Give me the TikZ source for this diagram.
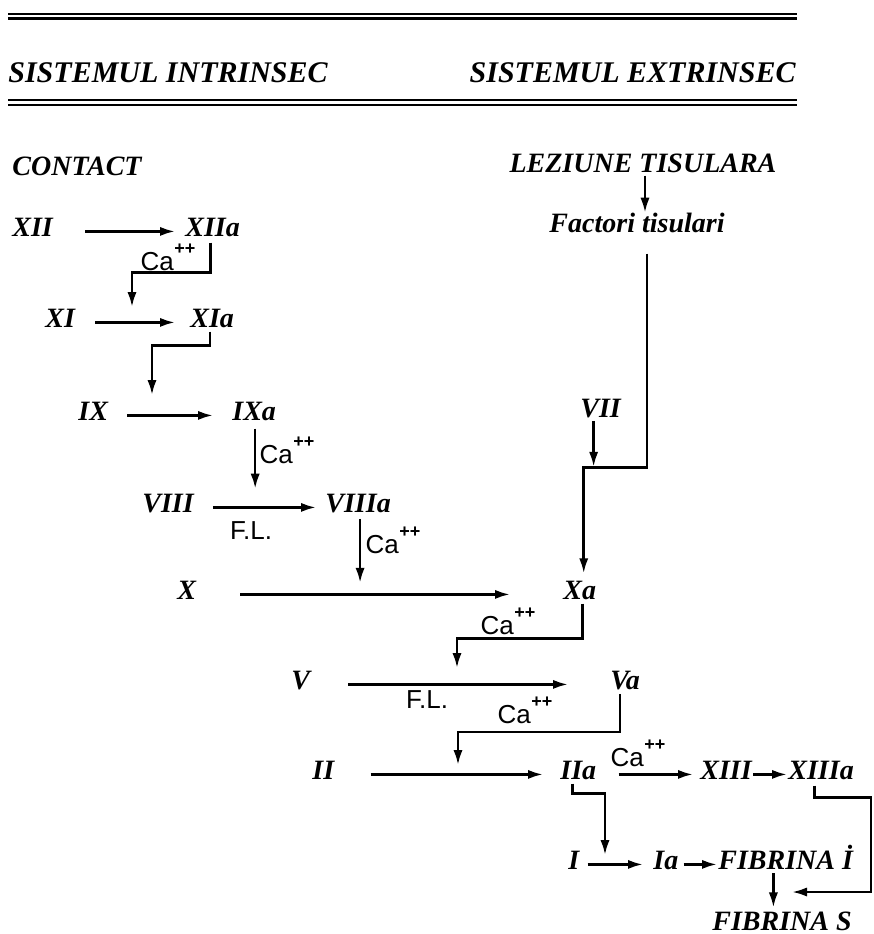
\documentclass[tikz,border=0pt]{standalone}
\usepackage{fontspec}
\setmainfont{Liberation Serif}
\setsansfont{Liberation Sans}
\usetikzlibrary{arrows.meta,calc}
\newcommand{\CaPP}{Ca\kern0.02em\raisebox{0.62em}{\fontsize{9}{9}\selectfont\bfseries ++}}
\begin{document}
\begin{tikzpicture}[x=0.5pt,y=-0.5pt,
  lbl/.style={inner sep=0pt,font=\fontsize{14}{16}\selectfont\bfseries\itshape},
  hdr/.style={inner sep=0pt,font=\fontsize{15}{17}\selectfont\bfseries\itshape},
  hand/.style={inner sep=0pt,font=\fontsize{13}{15}\selectfont\sffamily},
  arr/.style={line width=1.25pt,-{Latex[length=7.5pt,width=4.6pt]}},
  rule/.style={line width=1.1pt}]
\useasboundingbox (0,0) rectangle (874,934);

% header rules
\draw[rule] (8,14) -- (797,14);
\draw[rule] (8,18.5) -- (797,18.5);
\draw[rule] (8,100) -- (797,100);
\draw[rule] (8,105) -- (797,105);

% headers
\node[hdr,anchor=base west] (hL) at (8,82) {SISTEMUL INTRINSEC};
\node[hdr,anchor=base east] (hR) at (796,82) {SISTEMUL EXTRINSEC};

% intrinsic nodes
\node[lbl,anchor=base west] (contact) at (12,175) {CONTACT};
\node[lbl,anchor=base west] (n12) at (12,236) {XII};
\node[lbl,anchor=base west] (n12a) at (185,236) {XIIa};
\node[lbl,anchor=base west] (n11) at (45,327) {XI};
\node[lbl,anchor=base west] (n11a) at (190,327) {XIa};
\node[lbl,anchor=base west] (n9) at (78,420) {IX};
\node[lbl,anchor=base west] (n9a) at (232,420) {IXa};
\node[lbl,anchor=base west] (n8) at (142,512) {VIII};
\node[lbl,anchor=base west] (n8a) at (325,512) {VIIIa};
\node[lbl,anchor=base west] (n10) at (177,599) {X};
\node[lbl,anchor=base west] (n10a) at (563,599) {Xa};
\node[lbl,anchor=base west] (n5) at (291,689) {V};
\node[lbl,anchor=base west] (n5a) at (610,689) {Va};
\node[lbl,anchor=base west] (n2) at (312,779) {II};
\node[lbl,anchor=base west] (n2a) at (560,779) {IIa};
\node[lbl,anchor=base west] (n13) at (700,779) {XIII};
\node[lbl,anchor=base west] (n13a) at (788,779) {XIIIa};
\node[lbl,anchor=base west] (n1) at (568,869) {I};
\node[lbl,anchor=base west] (n1a) at (653,869) {Ia};
\node[lbl,anchor=base west] (fibI) at (718,869) {FIBRINA İ};
\node[lbl,anchor=base west] (fibS) at (712,930) {FIBRINA S};

% extrinsic nodes
\node[lbl,anchor=base] (lez) at (643,172) {LEZIUNE TISULARA};
\node[lbl,anchor=base] (fac) at (637,232) {Factori tisulari};
\node[lbl,anchor=base west] (n7) at (580,417) {VII};

% handwritten labels
\node[hand] (ca1) at (168,257) {\CaPP};
\node[hand] (ca2) at (287,450) {\CaPP};
\node[hand] (ca3) at (393,540) {\CaPP};
\node[hand] (ca4) at (508,621) {\CaPP};
\node[hand] (ca5) at (525,710) {\CaPP};
\node[hand] (ca6) at (638,753) {\CaPP};
\node[hand] (fl1) at (251,531) {F.L.};
\node[hand] (fl2) at (427,700) {F.L.};

% free ends of catalysis arrows
\coordinate (t1) at (132,307);
\coordinate (t2) at (152,395);
\coordinate (t6) at (457,668);
\coordinate (t7) at (458,765);
\coordinate (t9) at (605,855);
\coordinate (rc) at (871,892);
\coordinate (t8) at (792,892);

% reaction arrows
\draw[arr,shorten <=16pt,shorten >=5pt] (n12.mid east) -- (n12.mid east -| n12a.west);
\draw[arr,shorten <=10pt,shorten >=7.5pt] (n11.mid east) -- (n11.mid east -| n11a.west);
\draw[arr,shorten <=9.5pt,shorten >=9.5pt] (n9.mid east) -- (n9.mid east -| n9a.west);
\draw[arr,shorten <=9.3pt,shorten >=4.5pt] (n8.mid east) -- (n8.mid east -| n8a.west);
\draw[arr,shorten <=22pt,shorten >=26.5pt] (n10.mid east) -- (n10.mid east -| n10a.west);
\draw[arr,shorten <=19pt,shorten >=21pt] (n5.mid east) -- (n5.mid east -| n5a.west);
\draw[arr,shorten <=18pt,shorten >=8.5pt] (n2.mid east) -- (n2.mid east -| n2a.west);
\draw[arr,shorten <=11pt,shorten >=3.5pt] (n2a.mid east) -- (n2a.mid east -| n13.west);
\draw[arr,shorten <=0.5pt,shorten >=0.5pt] (n13.mid east) -- (n13.mid east -| n13a.west);
\draw[arr,shorten <=4pt,shorten >=5pt] (n1.mid east) -- (n1.mid east -| n1a.west);
\draw[arr,shorten <=2.5pt,shorten >=0.5pt] (n1a.mid east) -- (n1a.mid east -| fibI.west);

% catalysis arrows (intrinsic)
\draw[arr] ([shift={(-1pt,-3pt)}]n12a.south) -- ++(0,-15pt) -| (t1);
\draw[arr] ([shift={(-1pt,-2pt)}]n11a.south) -- ++(0,-7pt) -| (t2);
\draw[arr] ([shift={(0.5pt,-4pt)}]n9a.south) -- ++(0,-30pt);
\draw[arr] ([shift={(1pt,-3pt)}]n8a.south) -- ++(0,-32pt);

% extrinsic path
\draw[arr] ([shift={(1pt,-1.5pt)}]lez.south) -- ++(0,-18.5pt);
\draw[arr] ([shift={(5pt,-10.5pt)}]fac.south) -- ++(0,-107pt) -| ([shift={(2pt,3.5pt)}]n10a.north);
\draw[arr] ([shift={(-3.5pt,-1.5pt)}]n7.south) -- ++(0,-23pt);

% common pathway
\draw[arr] ([shift={(1.35pt,-2pt)}]n10a.south) -- ++(0,-17.5pt) -| (t6);
\draw[arr] ([shift={(-2.5pt,-2pt)}]n5a.south) -- ++(0,-19pt) -| (t7);
\draw[arr] ([shift={(-3pt,-2pt)}]n2a.south) -- ++(0,-5pt) -| (t9);
\draw[arr] ([shift={(-3.35pt,-3pt)}]n13a.south) -- ++(0,-6pt) -| (rc) -- (t8);
\draw[arr] ([shift={(-6.15pt,-2pt)}]fibI.south) -- ++(0,-17pt);
\end{tikzpicture}
\end{document}
